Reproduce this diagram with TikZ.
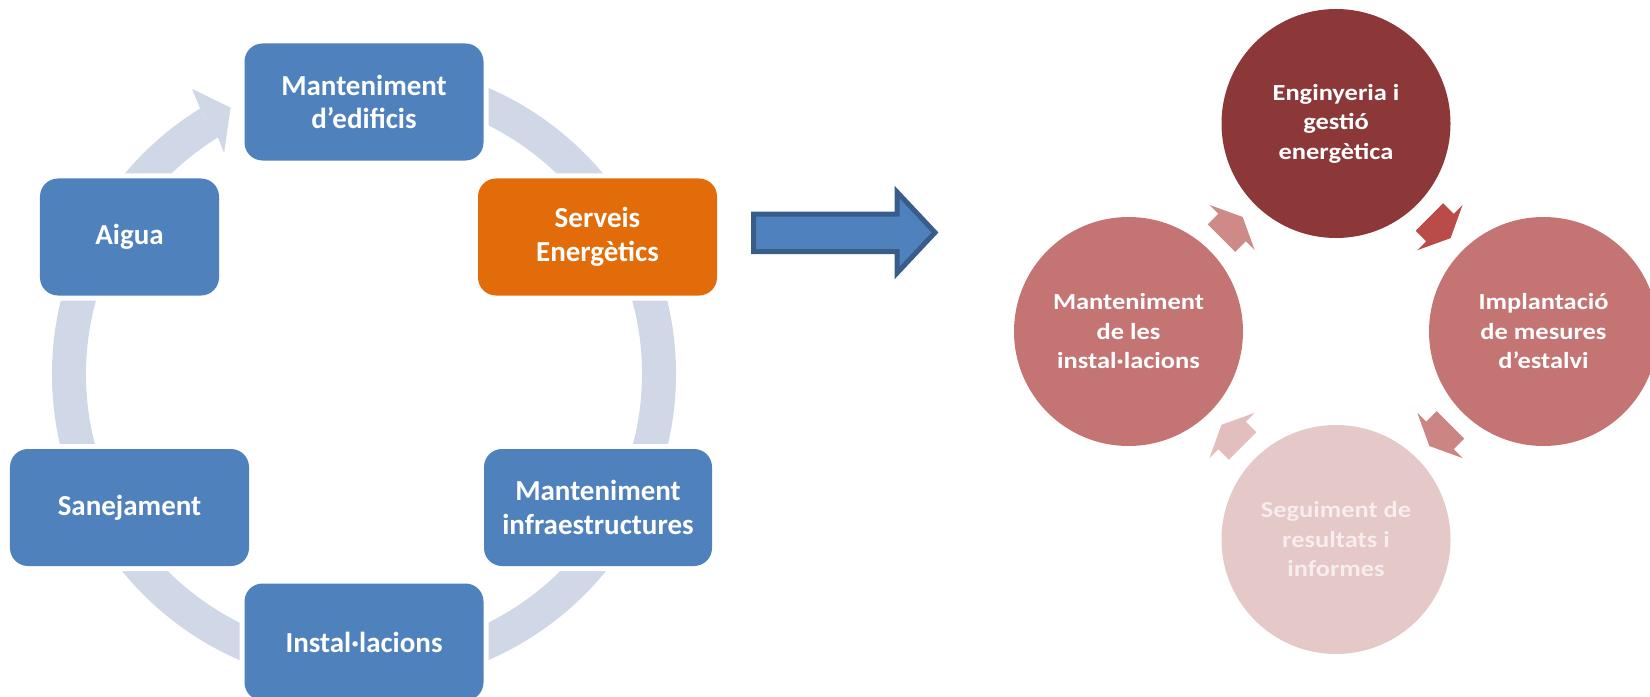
\documentclass[tikz,border=0pt]{standalone}
\usepackage{fontspec}
\setmainfont{Carlito}
\newfontfamily\rfont{Carlito}[FakeStretch=1.15]
\usetikzlibrary{calc}
\definecolor{boxblue}{RGB}{79,129,189}
\definecolor{boxorange}{RGB}{227,108,10}
\definecolor{ringcol}{RGB}{208,216,232}
\definecolor{arrline}{RGB}{56,93,138}
\definecolor{cdark}{RGB}{140,56,56}
\definecolor{cmid}{RGB}{196,116,114}
\definecolor{clight}{RGB}{229,200,200}
\definecolor{clighttext}{RGB}{248,236,236}
\definecolor{aTR}{RGB}{185,76,73}
\definecolor{aBR}{RGB}{203,133,131}
\definecolor{aBL}{RGB}{226,190,190}
\definecolor{aTL}{RGB}{205,138,135}
\begin{document}
\begin{tikzpicture}[x=1bp,y=-1bp,
  box/.style={rectangle, rounded corners=18bp, fill=boxblue, text=white,
    inner sep=0pt, minimum height=117bp, align=center,
    font=\bfseries\fontsize{29bp}{33.5bp}\selectfont,
    preaction={draw=white, line width=10bp}},
  circ/.style={circle, minimum size=229bp, inner sep=0pt, text=white,
    align=center, font=\rfont\bfseries\fontsize{23bp}{29.5bp}\selectfont},
  ring/.style={ringcol, line width=34bp},
  cyc/.style={fill=#1}]
\useasboundingbox (0,0) rectangle (1650,697);
\clip (0,0) rectangle (1650,697);

% ---------- left cycle ----------
\coordinate (cc) at (364,374);
\draw[ring] ($(cc)+(-121.7:295)$) arc[start angle=-121.7, end angle=-450, radius=295];
\fill[ringcol] ($(cc)+(-121.7:312)$) -- ($(cc)+(-121.1:333)$) -- ($(cc)+(-116.6:298)$)
   -- ($(cc)+(-122.35:261.5)$) -- ($(cc)+(-121.7:278)$) -- cycle;

\node[box, minimum width=239bp] (med) at (364,102) {Manteniment\\d’edificis};
\node[box, minimum width=179bp] (aig) at (129.5,237) {Aigua};
\node[box, fill=boxorange, minimum width=239bp] (ser) at (597.5,237) {Serveis\\Energètics};
\node[box, minimum width=239bp] (san) at (129.5,507.5) {Sanejament};
\node[box, minimum width=228bp] (inf) at (598,507.5) {Manteniment\\infraestructures};
\node[box, minimum width=239bp] (ins) at (364,642) {Instal·lacions};

% ---------- big arrow ----------
\draw[arrline, fill=boxblue, line width=5bp, miter limit=10]
  (753.5,214) -- (897,214) -- (897,192) -- (935,232.5) -- (897,273) -- (897,251.5) -- (753.5,251.5) -- cycle;

% ---------- right cycle ----------
\coordinate (rc) at (1336,331.5);
\node[circ, fill=cdark] (eng) at (1336,123.5) {Enginyeria i\\gestió\\energètica};
\node[circ, fill=cmid] (imp) at (1543.5,331.5) {Implantació\\de mesures\\d’estalvi};
\node[circ, fill=clight, text=clighttext] (seg) at (1336,539.5) {Seguiment de\\resultats i\\informes};
\node[circ, fill=cmid] (man) at (1128.5,331.5) {Manteniment\\de les\\instal·lacions};

\coordinate (pTR) at ($(rc)+(-45:147)$);
\coordinate (pBR) at ($(rc)+(45:147)$);
\coordinate (pBL) at ($(rc)+(135:147)$);
\coordinate (pTL) at ($(rc)+(-135:147)$);
\foreach \p/\r/\c in {pTR/-45/aTR, pBR/-135/aBR, pBL/135/aBL, pTL/45/aTL}{
  \fill[cyc=\c, shift={(\p)}, rotate=\r]
    (-15,-19.5) -- (0,-19.5) -- (0,-32) -- (15,0) -- (0,32) -- (0,19.5) -- (-15,19.5) -- cycle;
}
\end{tikzpicture}
\end{document}
